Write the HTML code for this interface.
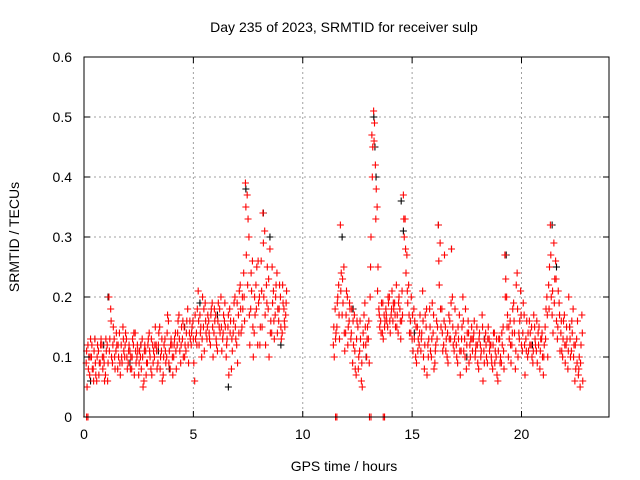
<!DOCTYPE html>
<html><head><meta charset="utf-8"><style>
body{margin:0;background:#fff;}
svg{display:block;font-family:"Liberation Sans",sans-serif;}
</style></head><body>
<svg id="chart" width="640" height="480" xmlns="http://www.w3.org/2000/svg">
<text x="344" y="32" font-size="14" text-anchor="middle">Day 235 of 2023, SRMTID for receiver sulp</text>
<text x="344" y="471" font-size="14" text-anchor="middle">GPS time / hours</text>
<text transform="translate(19,237) rotate(-90)" font-size="14" text-anchor="middle">SRMTID / TECUs</text>
<g id="grid"></g><g id="black"></g><g id="red"></g><g id="axes"></g>
</svg>
<script>
const xTicks=[0,5,10,15,20];
const yTicks=[0,0.1,0.2,0.3,0.4,0.5,0.6];
const yTickLabels=["0","0.1","0.2","0.3","0.4","0.5","0.6"];
const redTimes=[0.10,0.18,0.26,0.34,0.42,0.50,0.58,0.66,0.74,0.82,
0.90,0.98,1.06,1.14,1.22,1.30,1.38,1.46,1.54,1.62,
1.70,1.78,1.86,1.94,2.02,2.10,2.18,2.26,2.34,2.42,
2.50,2.58,2.66,2.74,2.82,2.90,2.98,3.06,3.14,3.22,
3.30,3.38,3.46,3.54,3.62,3.70,3.78,3.86,3.94,4.02,
4.10,4.18,4.26,4.34,4.42,4.50,4.58,4.66,4.74,4.82,
4.90,4.98,5.06,5.14,5.22,5.30,5.38,5.46,5.54,5.62,
5.70,5.78,5.86,5.94,6.02,6.10,6.18,6.26,6.34,6.42,
6.50,6.58,6.66,6.74,6.82,6.90,6.98,7.06,7.14,7.22,
7.30,7.38,7.46,7.54,7.62,7.70,7.78,7.86,7.94,8.02,
8.10,8.18,8.26,8.34,8.42,8.50,8.58,8.66,8.74,8.82,
8.90,8.98,9.06,9.14,9.22,
11.40,11.48,11.56,11.64,11.72,11.80,11.88,11.96,12.04,12.12,
12.20,12.28,12.36,12.44,12.52,12.60,12.68,12.76,12.84,12.92,
13.00,13.08,13.16,13.24,13.32,13.40,13.48,13.56,13.64,13.72,
13.80,13.88,13.96,14.04,14.12,14.20,14.28,14.36,14.44,14.52,
14.60,14.68,14.76,14.84,14.92,15.00,15.08,15.16,15.24,15.32,
15.40,15.48,15.56,15.64,15.72,15.80,15.88,15.96,16.04,16.12,
16.20,16.28,16.36,16.44,16.52,16.60,16.68,16.76,16.84,16.92,
17.00,17.08,17.16,17.24,17.32,17.40,17.48,17.56,17.64,17.72,
17.80,17.88,17.96,18.04,18.12,18.20,18.28,18.36,18.44,18.52,
18.60,18.68,18.76,18.84,18.92,19.00,19.08,19.16,19.24,19.32,
19.40,19.48,19.56,19.64,19.72,19.80,19.88,19.96,20.04,20.12,
20.20,20.28,20.36,20.44,20.52,20.60,20.68,20.76,20.84,20.92,
21.00,21.08,21.16,21.24,21.32,21.40,21.48,21.56,21.64,21.72,
21.80,21.88,21.96,22.04,22.12,22.20,22.28,22.36,22.44,22.52,
22.60,22.68,22.76];
const redA=[.09,.12,.07,.10,.08,.13,.06,.11,.09,.12,
.10,.07,.12,.20,.18,.09,.13,.11,.08,.14,
.12,.15,.10,.13,.09,.11,.08,.12,.14,.10,
.07,.10,.13,.06,.11,.09,.14,.08,.12,.10,
.12,.09,.15,.11,.07,.13,.10,.16,.08,.12,
.10,.14,.12,.17,.09,.13,.15,.11,.18,.14,
.12,.16,.06,.14,.21,.17,.10,.15,.19,.13,
.16,.12,.19,.14,.17,.11,.15,.20,.13,.16,
.10,.15,.18,.08,.14,.20,.12,.17,.22,.15,
.24,.39,.37,.30,.18,.26,.14,.22,.12,.20,
.26,.34,.31,.22,.18,.28,.14,.21,.17,.24,
.16,.20,.14,.18,.17,
.12,.18,.15,.22,.32,.17,.25,.14,.20,.16,
.13,.09,.17,.07,.15,.11,.06,.14,.19,.10,
.13,.20,.47,.51,.42,.35,.18,.16,.14,.17,
.18,.15,.20,.17,.16,.19,.22,.14,.18,.16,
.37,.33,.27,.22,.16,.13,.18,.10,.15,.12,
.11,.21,.08,.15,.12,.18,.10,.14,.09,.16,
.32,.29,.18,.12,.15,.10,.17,.13,.20,.11,
.14,.09,.17,.11,.20,.13,.08,.16,.12,.15,
.13,.10,.15,.08,.12,.17,.11,.14,.09,.13,
.12,.08,.14,.10,.06,.13,.09,.15,.27,.20,
.10,.16,.12,.19,.08,.24,.14,.21,.11,.17,
.13,.10,.16,.12,.09,.15,.11,.14,.08,.13,
.07,.15,.20,.22,.32,.17,.29,.26,.13,.19,
.14,.10,.17,.12,.08,.15,.11,.18,.06,.13,
.07,.05,.17];
const redB=[.05,.10,.13,.08,.11,.07,.12,.09,.13,.08,
.06,.11,.09,.13,.10,.15,.08,.12,.10,.07,
.09,.11,.14,.08,.12,.10,.13,.07,.09,.11,
.11,.08,.05,.12,.09,.13,.10,.07,.11,.15,
.08,.14,.10,.06,.12,.09,.17,.11,.13,.07,
.13,.08,.16,.11,.15,.10,.12,.16,.09,.13,
.15,.09,.13,.18,.12,.15,.20,.11,.14,.17,
.13,.18,.10,.16,.12,.19,.14,.11,.17,.15,
.13,.07,.16,.11,.19,.13,.09,.21,.14,.18,
.16,.27,.33,.12,.21,.10,.17,.25,.19,.15,
.15,.20,.12,.25,.10,.16,.19,.13,.22,.18,
.22,.13,.19,.15,.21,
.10,.14,.20,.13,.24,.19,.11,.21,.15,.18,
.18,.12,.08,.16,.10,.13,.05,.17,.12,.15,
.09,.30,.45,.49,.38,.25,.15,.19,.13,.16,
.16,.19,.14,.21,.18,.15,.17,.20,.13,.17,
.30,.24,.19,.14,.20,.11,.16,.09,.13,.17,
.14,.10,.17,.07,.13,.11,.19,.08,.12,.15,
.22,.15,.11,.27,.13,.09,.16,.28,.12,.18,
.10,.13,.07,.15,.11,.18,.14,.09,.13,.11,
.16,.12,.09,.14,.11,.06,.13,.10,.15,.12,
.09,.14,.11,.07,.13,.10,.12,.08,.23,.17,
.13,.09,.18,.14,.22,.10,.16,.12,.19,.07,
.16,.11,.14,.10,.17,.12,.09,.15,.13,.10,
.12,.18,.10,.25,.20,.14,.23,.16,.21,.11,
.11,.16,.09,.13,.20,.10,.14,.12,.08,.16,
.10,.12,.06];
const redC=[.11,.08,.10,.12,.06,.09,.10,.07,.12,.10,
.09,.13,.06,.11,.16,.12,.10,.14,.12,.09,
.10,.13,.12,.10,.11,.08,.10,.14,.11,.12,
.09,.12,.10,.11,.07,.12,.11,.13,.09,.12,
.11,.12,.08,.13,.10,.11,.14,.09,.12,.10,
.12,.11,.14,.13,.12,.16,.10,.14,.12,.16,
.14,.13,.17,.12,.16,.14,.13,.18,.16,.15,
.14,.17,.15,.18,.13,.16,.18,.15,.14,.19,
.12,.17,.14,.13,.16,.15,.19,.14,.18,.20,
.20,.35,.22,.17,.24,.15,.20,.18,.26,.12,
.21,.29,.17,.19,.23,.14,.25,.16,.20,.14,
.18,.15,.22,.16,.19,
.15,.13,.19,.17,.21,.23,.14,.17,.12,.19,
.14,.16,.11,.13,.08,.16,.09,.12,.15,.13,
.16,.25,.40,.46,.33,.21,.17,.14,.19,.15,
.17,.20,.16,.18,.19,.17,.15,.19,.16,.21,
.33,.28,.21,.17,.14,.17,.13,.15,.11,.14,
.13,.16,.12,.18,.10,.15,.13,.17,.11,.13,
.26,.18,.14,.16,.11,.14,.13,.19,.15,.13,
.12,.15,.11,.13,.16,.10,.12,.14,.10,.13,
.14,.11,.12,.13,.10,.15,.09,.12,.13,.11,
.10,.12,.09,.13,.11,.09,.14,.11,.20,.15,
.15,.12,.14,.16,.11,.18,.13,.17,.14,.12,
.11,.14,.12,.15,.11,.13,.16,.12,.11,.14,
.10,.13,.17,.18,.27,.21,.19,.23,.15,.17,
.16,.13,.12,.15,.11,.13,.16,.10,.12,.09,
.08,.09,.14];
const zeroTimes=[0.12,0.18,11.50,11.56,13.05,13.12,13.68,13.74];
const blackTimes=[1.1,0.3,0.9,2.1,3.4,4.6,6.6,7.4,8.2,8.5,11.8,12.3,13.25,13.3,13.35,14.5,14.6,16.2,16.8,19.3,21.4,21.6,5.3,9.0,12.9,15.1,17.5,18.3,20.5,22.2,0.5,2.6,3.9,6.1];
const blackValues=[.20,.06,.12,.09,.11,.15,.05,.38,.34,.30,.30,.18,.50,.45,.40,.36,.31,.32,.28,.27,.32,.25,.19,.12,.10,.14,.10,.13,.12,.15,.13,.12,.08,.17];

const X0=84,X1=609,Y0=417,Y1=57,XMAX=24,YMAX=0.6;
const xs=t=>X0+(X1-X0)*t/XMAX, ys=v=>Y0-(Y0-Y1)*v/YMAX;
const NS="http://www.w3.org/2000/svg";
function mk(tag,attrs,parent){const e=document.createElementNS(NS,tag);for(const k in attrs)e.setAttribute(k,attrs[k]);parent.appendChild(e);return e;}
const grid=document.getElementById('grid'),axes=document.getElementById('axes');
xTicks.forEach(t=>{
 if(t>0){const g=mk('line',{x1:xs(t),x2:xs(t),y1:Y1,y2:Y0,stroke:'#a0a0a0','stroke-dasharray':'2,3'},grid);
 
 }
 [[Y0,Y0-6],[Y1,Y1+6]].forEach(p=>{const tk=mk('line',{x1:xs(t),x2:xs(t),y1:p[0],y2:p[1],stroke:'#000'},axes);
 
 });
 const l=mk('text',{x:xs(t),y:Y0+22,'font-size':14,'text-anchor':'middle'},axes);l.textContent=String(t);
 
 
});
yTicks.forEach((v,i)=>{
 if(v>0&&v<YMAX){const g=mk('line',{x1:X0,x2:X1,y1:ys(v),y2:ys(v),stroke:'#a0a0a0','stroke-dasharray':'2,3'},grid);
 
 }
 [[X0,X0+6],[X1,X1-6]].forEach(p=>{const tk=mk('line',{x1:p[0],x2:p[1],y1:ys(v),y2:ys(v),stroke:'#000'},axes);
 
 });
 const l=mk('text',{x:X0-12,y:ys(v)+5,'font-size':14,'text-anchor':'end'},axes);l.textContent=yTickLabels[i];
 
 
});
const frame=mk('rect',{x:X0,y:Y1,width:X1-X0,height:Y0-Y1,fill:'none',stroke:'#000','stroke-width':1},axes);


function plus(t,v,color,parent,name){
 const x=xs(t),y=ys(v);
 const p=mk('path',{d:`M${x-3.5},${y}H${x+3.5}M${x},${y-3.5}V${y+3.5}`,stroke:color,'stroke-width':1.1,fill:'none'},parent);
 
 
}
const bg=document.getElementById('black'),rg=document.getElementById('red');
blackTimes.forEach((t,i)=>plus(t,blackValues[i],'#000',bg,'black-point'));
redTimes.forEach((t,i)=>{
 plus(t,redA[i],'#ff0000',rg,'red-point');
 plus(t+0.04,redB[i],'#ff0000',rg,'red-point');
 plus(t+0.02,redC[i],'#ff0000',rg,'red-point');
});
zeroTimes.forEach(t=>plus(t,0,'#ff0000',rg,'zero-point'));
</script>
</body></html>
